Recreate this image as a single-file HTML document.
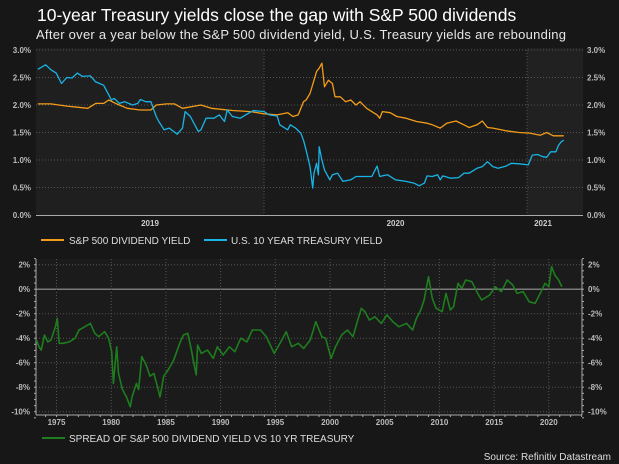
<!DOCTYPE html>
<html><head><meta charset="utf-8"><style>
html,body{margin:0;padding:0;background:#171717;}
svg{display:block;font-family:"Liberation Sans",Arial,sans-serif;}
</style></head><body>
<svg id="c" width="619" height="464" viewBox="0 0 619 464">
<rect width="619" height="464" fill="#171717"/>
<text x="37" y="21" fill="#fff" font-size="17.5">10-year Treasury yields close the gap with S&amp;P 500 dividends</text>
<text x="36" y="39" fill="#e6e6e6" font-size="13" textLength="530">After over a year below the S&amp;P 500 dividend yield, U.S. Treasury yields are rebounding</text>
<g id="top"></g>
<g id="bot"></g>
<g>
<line x1="41" y1="240" x2="64" y2="240" stroke="#f39c19" stroke-width="2"/>
<text x="69" y="244" fill="#ddd" font-size="10">S&amp;P 500 DIVIDEND YIELD</text>
<line x1="204" y1="240" x2="227" y2="240" stroke="#19b4e6" stroke-width="2"/>
<text x="231" y="244" fill="#ddd" font-size="10">U.S. 10 YEAR TREASURY YIELD</text>
</g>
<g>
<line x1="42" y1="438" x2="65" y2="438" stroke="#1e7d1e" stroke-width="2"/>
<text x="69" y="442" fill="#ddd" font-size="10">SPREAD OF S&amp;P 500 DIVIDEND YIELD VS 10 YR TREASURY</text>
</g>
<text x="611" y="460" fill="#ddd" font-size="10" text-anchor="end">Source: Refinitiv Datastream</text>
</svg>
<script>
// ---- Top chart data ----
const tsyDates = [2019.14,2019.17,2019.19,2019.21,2019.23,2019.25,2019.27,2019.29,2019.31,2019.34,2019.36,2019.39,2019.40,2019.42,2019.43,2019.45,2019.47,2019.50,2019.52,2019.53,2019.55,2019.57,2019.59,2019.60,2019.62,2019.64,2019.67,2019.69,2019.70,2019.72,2019.73,2019.75,2019.76,2019.78,2019.81,2019.83,2019.85,2019.86,2019.88,2019.91,2019.93,2019.96,2020.00,2020.02,2020.05,2020.06,2020.09,2020.10,2020.12,2020.14,
2020.15,2020.16,2020.175,2020.185,2020.19,2020.20,2020.207,2020.21,2020.22,2020.23,2020.25,2020.26,2020.28,2020.30,2020.33,2020.35,2020.38,2020.41,2020.43,2020.44,2020.47,2020.50,2020.54,2020.57,2020.59,2020.61,2020.62,2020.64,2020.66,2020.67,2020.68,2020.71,2020.74,2020.76,2020.78,2020.81,2020.83,2020.85,2020.87,2020.89,2020.92,2020.94,2020.97,2021.005,2021.02,2021.04,2021.06,2021.075,2021.09,2021.11,2021.12,2021.13,2021.14];
const tsyValues = [2.65,2.73,2.64,2.58,2.39,2.50,2.49,2.58,2.52,2.53,2.42,2.36,2.27,2.09,2.12,2.03,2.06,2.00,2.03,2.10,2.06,2.06,1.79,1.70,1.55,1.58,1.47,1.58,1.88,1.79,1.70,1.52,1.55,1.76,1.76,1.82,1.70,1.91,1.79,1.76,1.82,1.90,1.88,1.82,1.80,1.64,1.55,1.64,1.58,1.49,
1.36,1.18,0.88,0.49,0.76,0.94,0.73,1.24,1.00,0.82,0.64,0.73,0.76,0.61,0.64,0.70,0.70,0.70,0.89,0.70,0.73,0.64,0.61,0.58,0.53,0.58,0.71,0.70,0.73,0.64,0.71,0.67,0.68,0.76,0.76,0.85,0.88,0.97,0.88,0.85,0.89,0.94,0.93,0.91,1.09,1.10,1.06,1.05,1.15,1.15,1.27,1.33,1.36];
const divDates = [2019.14,2019.19,2019.25,2019.29,2019.33,2019.36,2019.39,2019.41,2019.44,2019.48,2019.53,2019.57,2019.59,2019.63,2019.66,2019.69,2019.76,2019.80,2019.88,2019.95,2020.00,2020.05,2020.09,2020.11,2020.13,2020.15,2020.16,
2020.175,2020.19,2020.20,2020.21,2020.22,2020.23,2020.245,2020.26,2020.27,2020.29,2020.31,2020.33,2020.35,2020.365,2020.39,2020.43,2020.44,2020.45,2020.48,2020.505,2020.54,2020.58,2020.62,2020.64,2020.67,2020.695,2020.73,2020.76,2020.78,2020.81,2020.83,2020.85,2020.87,2020.92,2020.97,2021.01,2021.05,2021.075,2021.10,2021.14];
const divValues = [2.02,2.02,1.98,1.96,1.94,2.03,2.03,2.09,2.02,1.94,1.91,1.91,2.00,2.02,2.02,1.94,2.00,1.94,1.90,1.88,1.84,1.82,1.86,1.79,1.82,2.06,2.09,
2.21,2.45,2.61,2.67,2.76,2.33,2.45,2.39,2.15,2.15,2.06,2.09,2.00,2.06,1.94,1.82,1.76,1.88,1.86,1.79,1.76,1.70,1.67,1.64,1.58,1.67,1.71,1.64,1.59,1.64,1.71,1.59,1.58,1.53,1.50,1.49,1.45,1.50,1.44,1.44];
const topTicks = [0,0.5,1,1.5,2,2.5,3];
const topTickLabels = ["0.0%","0.5%","1.0%","1.5%","2.0%","2.5%","3.0%"];
const topYears = [2019,2020,2021];

// ---- Bottom chart data ----
const spreadDates = [1973.16,1973.4,1973.6,1973.9,1974.2,1974.5,1974.9,1975.07,1975.25,1975.6,1976.15,1976.7,1977.06,1977.6,1978.1,1978.5,1978.86,1979.4,1979.76,1980.05,1980.2,1980.5,1980.67,1981.03,1981.4,1981.75,1981.9,1982.3,1982.5,1982.8,1983.2,1983.55,1983.9,1984.3,1984.46,1984.8,1985.2,1985.7,1986.26,1986.6,1987.0,1987.34,1987.5,1987.77,1987.9,1988.24,1988.8,1989.33,1989.7,1990.23,1990.8,1991.3,1991.85,1992.4,1992.9,1993.65,1994.2,1994.9,1995.5,1996.0,1996.5,1997.1,1997.6,1998.2,1998.7,1999.25,1999.6,2000.1,2000.5,2001.06,2001.6,2002.1,2002.5,2002.86,2003.2,2003.6,2004.1,2004.7,2005.2,2005.75,2006.3,2007.0,2007.55,2007.9,2008.3,2008.6,2009.0,2009.35,2009.7,2010.26,2010.6,2011.0,2011.3,2011.7,2012.06,2012.4,2012.96,2013.5,2013.86,2014.6,2015.1,2015.67,2016.2,2016.7,2017.1,2017.66,2018.2,2018.75,2019.3,2019.65,2020.0,2020.26,2020.55,2020.9,2021.2];
const spreadValues = [-4.15,-4.7,-4.97,-3.74,-4.3,-4.15,-3.06,-2.38,-4.42,-4.42,-4.3,-4.0,-3.33,-3.06,-2.79,-3.6,-3.88,-3.47,-4.0,-5.1,-7.7,-4.7,-6.87,-8.2,-8.8,-9.6,-8.8,-7.7,-8.2,-5.5,-6.2,-7.1,-6.87,-8.2,-8.8,-7.1,-6.6,-5.8,-4.42,-3.74,-3.6,-5.0,-5.8,-7.0,-4.56,-5.24,-4.97,-5.65,-4.7,-5.37,-4.7,-5.1,-4.0,-4.3,-3.33,-3.33,-3.9,-5.24,-4.3,-3.47,-4.7,-4.42,-4.83,-4.15,-2.65,-3.88,-4.0,-5.65,-4.7,-3.74,-3.33,-3.88,-2.65,-1.56,-1.84,-2.52,-2.25,-2.79,-2.1,-2.65,-3.06,-2.79,-3.33,-2.38,-1.7,-0.88,1.02,-0.75,-1.56,-1.84,-0.34,-1.7,-1.43,0.48,0.07,0.75,0.61,-0.34,-0.88,-0.48,0.2,-0.2,0.75,0.34,-0.34,-0.2,-1.02,-1.16,-0.2,0.48,0.2,1.84,1.16,0.75,0.2];
const botTicks = [2,0,-2,-4,-6,-8,-10];
const botTickLabels = ["2%","0%","-2%","-4%","-6%","-8%","-10%"];
const botYears = [1975,1980,1985,1990,1995,2000,2005,2010,2015,2020];

const NS="http://www.w3.org/2000/svg";
function mk(parent,tag,attrs){const e=document.createElementNS(NS,tag);for(const k in attrs)e.setAttribute(k,attrs[k]);parent.appendChild(e);return e;}

// ---- top chart ----
(function(){
const g=document.getElementById('top');
const L=36,R=583,T=50,B=215;
const x=t=>264+(t-2020)*263;
const y=v=>B-(v/3)*(B-T);
let r=mk(g,'rect',{x:L,y:T-2,width:x(2020)-L,height:B-T+2,fill:'#1f1f1f'});


r=mk(g,'rect',{x:x(2020),y:T-2,width:x(2021)-x(2020),height:B-T+2,fill:'#1a1a1a'});


r=mk(g,'rect',{x:x(2021),y:T-2,width:R-x(2021),height:B-T+2,fill:'#212121'});


topTicks.forEach((v,i)=>{
  if(v>0){const l=mk(g,'line',{x1:L,x2:R,y1:y(v),y2:y(v),stroke:'#555','stroke-dasharray':'1,2','stroke-width':1});
  
  }
  const a=mk(g,'text',{x:31,y:y(v)+3,fill:'#bbb','font-size':8,'font-weight':'bold','text-anchor':'end'});a.textContent=topTickLabels[i];
  
  
  const b=mk(g,'text',{x:587,y:y(v)+3,fill:'#bbb','font-size':8,'font-weight':'bold'});b.textContent=topTickLabels[i];
  
  
});
[2020,2021].forEach(t=>{const l=mk(g,'line',{x1:x(t),x2:x(t),y1:T,y2:B,stroke:'#555','stroke-dasharray':'1,2'});
  
  });
const ax=mk(g,'line',{x1:L,x2:R,y1:B+0.5,y2:B+0.5,stroke:'#aaa','stroke-width':1});


const bounds=[x(2019.13),x(2020),x(2021),R];
topYears.forEach((yr,i)=>{const a=mk(g,'text',{x:(Math.max(bounds[i],L)+bounds[i+1])/2+(i==2?-12:0),y:226,fill:'#ccc','font-size':8,'font-weight':'bold','text-anchor':'middle'});a.textContent=yr;
  
  });
function line(d,v,c,n){const p=mk(g,'path',{d:d.map((t,i)=>(i?'L':'M')+x(t).toFixed(1)+','+y(v[i]).toFixed(1)).join(''),fill:'none',stroke:c,'stroke-width':1.3,'stroke-linejoin':'round'});
  
  }
line(divDates,divValues,'#f39c19','dividend-yield-line');
line(tsyDates,tsyValues,'#19b4e6','treasury-yield-line');
})();

// ---- bottom chart ----
(function(){
const g=document.getElementById('bot');
const L=36,R=582,T=259,B=415;
const x=t=>56.5+(t-1975)*10.94;
const y=v=>289.2-v*12.25;
let r=mk(g,'rect',{x:L,y:T,width:R-L,height:B-T,fill:'#1b1b1b'});


botTicks.forEach((v,i)=>{
  const l=mk(g,'line',{x1:L,x2:R,y1:y(v),y2:y(v),stroke:v==0?'#999':'#555','stroke-dasharray':v==0?'none':'1,2','stroke-width':v==0?1.2:1});
  
  
  const a=mk(g,'text',{x:30,y:y(v)+3,fill:'#bbb','font-size':8,'font-weight':'bold','text-anchor':'end'});a.textContent=botTickLabels[i];
  
  
  const b=mk(g,'text',{x:588,y:y(v)+3,fill:'#bbb','font-size':8,'font-weight':'bold'});b.textContent=botTickLabels[i];
  
  
});
for(let v=2.5;v>=-10.5;v-=0.5){
  const a=mk(g,'line',{x1:L-2,x2:L,y1:y(v),y2:y(v),stroke:'#aaa'});
  
  
  const b=mk(g,'line',{x1:R,x2:R+2,y1:y(v),y2:y(v),stroke:'#aaa'});
  
  
}
botYears.forEach(yr=>{const l=mk(g,'line',{x1:x(yr),x2:x(yr),y1:T,y2:B,stroke:'#555','stroke-dasharray':'1,2'});
  
  
  const a=mk(g,'text',{x:x(yr),y:B+10,fill:'#bbb','font-size':8,'font-weight':'bold','text-anchor':'middle'});a.textContent=yr;
  
  });
for(let yr=1974;yr<=2023;yr++){const l=mk(g,'line',{x1:x(yr),x2:x(yr),y1:B,y2:B+2,stroke:'#aaa'});
  
  }
let a=mk(g,'line',{x1:L,x2:L,y1:T,y2:B,stroke:'#aaa'});


a=mk(g,'line',{x1:R,x2:R,y1:T,y2:B,stroke:'#aaa'});


a=mk(g,'line',{x1:L,x2:R,y1:B,y2:B,stroke:'#aaa'});


const p=mk(g,'path',{d:spreadDates.map((t,i)=>(i?'L':'M')+x(t).toFixed(1)+','+y(spreadValues[i]).toFixed(1)).join(''),fill:'none',stroke:'#1e7d1e','stroke-width':1.6,'stroke-linejoin':'round'});


})();
</script>
</body></html>
